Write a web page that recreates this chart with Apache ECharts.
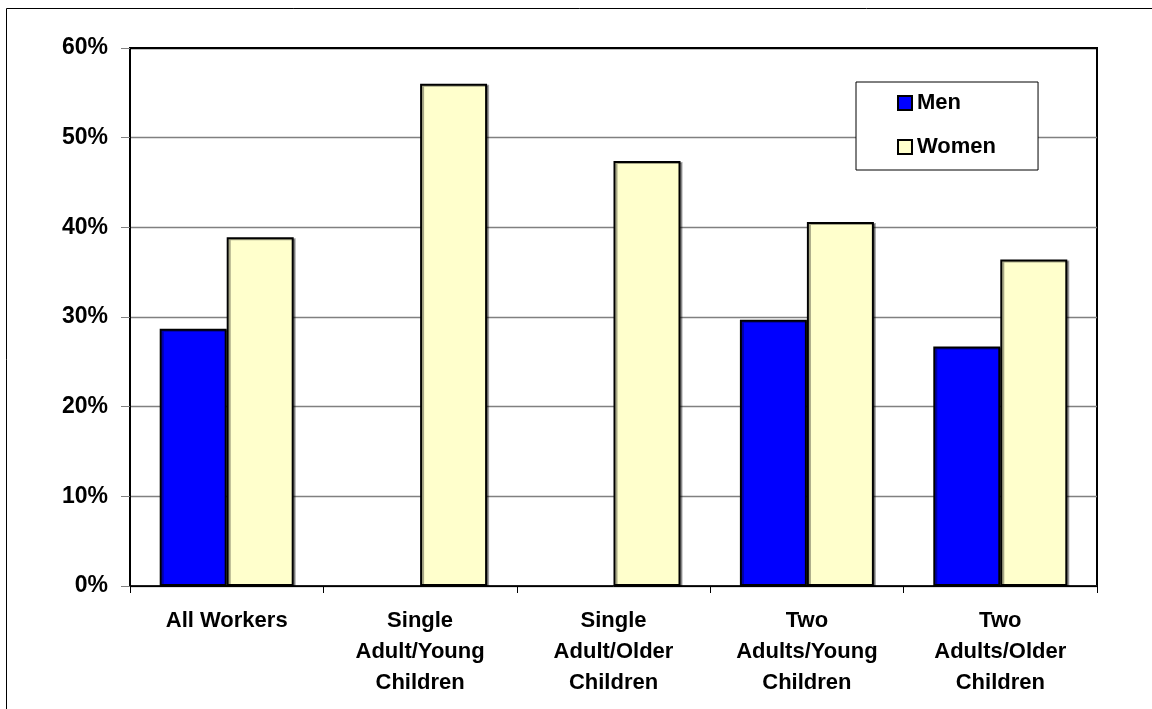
<!DOCTYPE html>
<html>
<head>
<meta charset="utf-8">
<script src="https://cdn.jsdelivr.net/npm/echarts@6/dist/echarts.min.js"></script>
<style>
  html, body { margin: 0; padding: 0; background: #fff; }
  #chart { width: 1152px; height: 709px; }
</style>
</head>
<body>
<div id="chart"></div>
<script>
// household type groups on the x axis
var categories = ['All Workers', 'Single\nAdult/Young\nChildren', 'Single\nAdult/Older\nChildren', 'Two\nAdults/Young\nChildren', 'Two\nAdults/Older\nChildren'];
// percent values, men have no bar in the single adult groups
var menValues = [28.7, null, null, 29.7, 26.7];
var womenValues = [38.9, 56.0, 47.4, 40.6, 36.4];
var yTicks = [0, 10, 20, 30, 40, 50, 60];

var font = "'Liberation Sans', Arial, sans-serif";
var chart = echarts.init(document.getElementById('chart'));

// top gridline is black (plot frame), the others grey
var gridColors = yTicks.map(function (v, i) { return i === yTicks.length - 1 ? '#000' : '#808080'; });

chart.setOption({
  animation: false,
  backgroundColor: '#fff',
  graphic: [{
    type: 'rect',
    shape: { x: 6.5, y: 8.5, width: 1200, height: 800 },
    style: { fill: 'none', stroke: '#000', lineWidth: 1 },
    silent: true
  }],
  grid: {
    left: 130, right: 55, top: 48, bottom: 123,
    show: true,
    borderColor: '#000',
    borderWidth: 2,
    backgroundColor: '#fff'
  },
  legend: {
    data: ['Men', 'Women'],
    orient: 'vertical',
    left: 856, top: 82,
    padding: [9, 42, 11, 41],
    itemGap: 20,
    itemWidth: 14, itemHeight: 14,
    itemTextGap: 5,
    icon: 'rect',
    backgroundColor: '#fff',
    borderColor: '#000',
    borderWidth: 1,
    borderRadius: 0,
    z: 10,
    textStyle: { color: '#000', fontFamily: font, fontWeight: 'bold', fontSize: 22, lineHeight: 24 }
  },
  xAxis: {
    type: 'category',
    data: categories,
    boundaryGap: true,
    axisLine: { lineStyle: { color: '#000', width: 1 } },
    axisTick: { show: true, length: 7, lineStyle: { color: '#000' } },
    axisLabel: {
      interval: 0, margin: 19,
      color: '#000', fontFamily: font, fontWeight: 'bold', fontSize: 22, lineHeight: 31
    }
  },
  yAxis: {
    type: 'value',
    min: 0, max: 60, interval: 10,
    axisLine: { show: true, lineStyle: { color: '#000', width: 1 } },
    axisTick: { show: true, length: 9, lineStyle: { color: '#808080' } },
    axisLabel: {
      formatter: '{value}%', margin: 22,
      color: '#000', fontFamily: font, fontWeight: 'bold', fontSize: 23
    },
    splitLine: { show: true, lineStyle: { color: gridColors, width: 1.3 } }
  },
  series: [
    {
      name: 'Men', type: 'bar', data: menValues,
      barWidth: 67, barGap: '0%',
      itemStyle: {
        color: '#0000ff', borderColor: '#000', borderWidth: 2,
        shadowColor: 'rgba(0,0,0,0.35)', shadowOffsetX: 2, shadowOffsetY: 1
      }
    },
    {
      name: 'Women', type: 'bar', data: womenValues,
      barWidth: 67, barGap: '0%',
      itemStyle: {
        color: '#ffffcc', borderColor: '#000', borderWidth: 2,
        shadowColor: 'rgba(0,0,0,0.35)', shadowOffsetX: 2, shadowOffsetY: 1
      }
    }
  ]
});
</script>
</body>
</html>
